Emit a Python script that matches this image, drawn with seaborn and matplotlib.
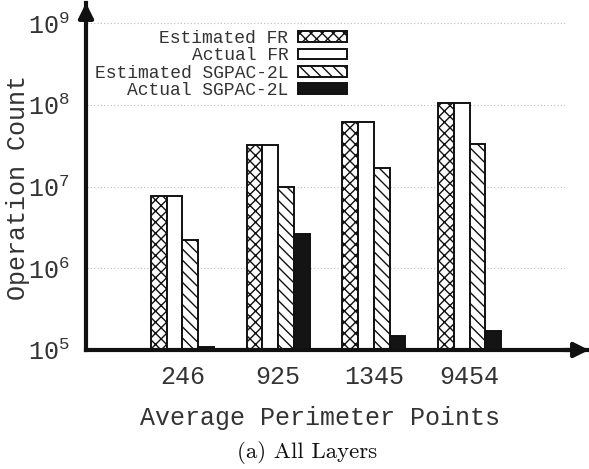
import matplotlib
matplotlib.use("Agg")
import matplotlib.pyplot as plt
import seaborn as sns
import pandas as pd

# Operation counts per dataset (average perimeter points)
categories = ["246", "925", "1345", "9454"]
methods = ["Estimated FR", "Actual FR", "Estimated SGPAC-2L", "Actual SGPAC-2L"]
estimated_fr = [7.7e6, 3.2e7, 6.1e7, 1.05e8]
actual_fr = [7.7e6, 3.2e7, 6.1e7, 1.05e8]
estimated_sgpac = [2.2e6, 1.0e7, 1.7e7, 3.3e7]
actual_sgpac = [1.1e5, 2.65e6, 1.5e5, 1.7e5]
y_ticks = [1e5, 1e6, 1e7, 1e8, 1e9]

series = [estimated_fr, actual_fr, estimated_sgpac, actual_sgpac]
df = pd.DataFrame(
    [(c, m, v) for m, vals in zip(methods, series) for c, v in zip(categories, vals)],
    columns=["points", "method", "count"],
)

sns.set_style("white")
plt.rcParams["font.family"] = ["Liberation Mono", "DejaVu Sans"]
plt.rcParams["mathtext.fontset"] = "custom"
plt.rcParams["mathtext.rm"] = "Liberation Mono"
plt.rcParams["mathtext.it"] = "Liberation Mono"
plt.rcParams["mathtext.bf"] = "Liberation Mono"
plt.rcParams["hatch.linewidth"] = 1.0

TEXT = "#333333"
W, H = 589, 469
fig = plt.figure(figsize=(W / 100, H / 100), dpi=100)
ax_l, ax_r, ax_b, ax_t = 86, 589, 350, 3
ax = fig.add_axes([ax_l / W, 1 - ax_b / H, (ax_r - ax_l) / W, (ax_b - ax_t) / H])

sns.barplot(
    data=df, x="points", y="count", hue="method",
    order=categories, hue_order=methods,
    palette=["white", "white", "white", "#141414"],
    edgecolor="#111111", linewidth=1.4, width=0.66,
    legend=False, ax=ax, zorder=2,
)
ax.set_yscale("log")

hatches = ["xxx", "", "\\\\\\", ""]
for cont, hatch in zip(ax.containers, hatches):
    for bar in cont:
        bar.set_hatch(hatch)

ax.set_ylim(1e5, 10 ** 9.247)
ax.set_xlim(-1.008, 4.248)
ax.set_yticks(y_ticks)
ax.yaxis.set_minor_locator(matplotlib.ticker.NullLocator())

# dotted horizontal grid
ax.hlines(y_ticks[1:], -1.0, 4.0, colors="#bdbdbd", linestyles=(0, (1, 2)),
          linewidth=0.8, zorder=0)

for side in ["top", "right"]:
    ax.spines[side].set_visible(False)
for side in ["left", "bottom"]:
    ax.spines[side].set_linewidth(3)
    ax.spines[side].set_color("#111111")

# arrow heads on both axes
ax.annotate("", xy=(0, 1), xytext=(0, 0.95), xycoords="axes fraction",
            arrowprops=dict(arrowstyle="-|>", color="#111111", lw=3,
                            mutation_scale=22, shrinkA=0, shrinkB=0))
ax.annotate("", xy=(1, 0), xytext=(0.95, 0), xycoords="axes fraction",
            arrowprops=dict(arrowstyle="-|>", color="#111111", lw=3,
                            mutation_scale=22, shrinkA=0, shrinkB=0))

ax.tick_params(axis="both", length=0, labelsize=18, colors=TEXT)
ax.tick_params(axis="x", pad=11)
ax.tick_params(axis="y", pad=12)

ax.set_xlabel("Average Perimeter Points", fontsize=18, color=TEXT)
ax.xaxis.set_label_coords((320 - ax_l) / (ax_r - ax_l), (ax_b - 406) / (ax_b - ax_t))
ax.set_ylabel("Operation Count", fontsize=18, color=TEXT)
ax.yaxis.set_label_coords((30 - ax_l) / (ax_r - ax_l), (ax_b - 187) / (ax_b - ax_t))

leg = ax.legend(
    ax.containers, methods,
    loc="upper right", bbox_to_anchor=(347 / W, 1 - 30 / H),
    bbox_transform=fig.transFigure,
    frameon=False, markerfirst=False, fontsize=13,
    handlelength=2.7, handleheight=0.55, handletextpad=0.55,
    labelspacing=0.02, borderpad=0, borderaxespad=0,
)
for t in leg.get_texts():
    t.set_color(TEXT)

fig.text(307 / W, 1 - 452 / H, "(a) All Layers", fontsize=16.5,
         family="cmr10", ha="center", va="center", color="#111111")

fig.savefig("out.png", dpi=100)
